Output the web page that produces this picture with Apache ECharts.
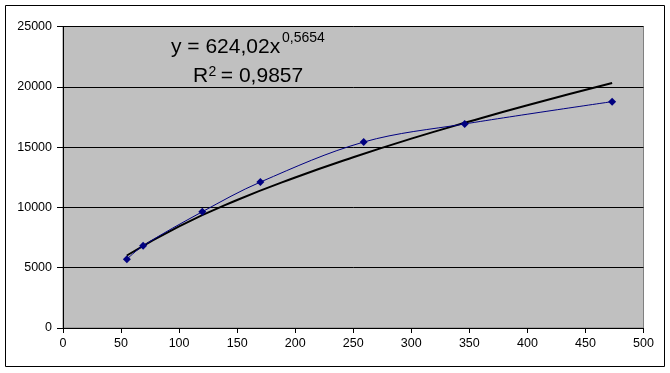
<!DOCTYPE html>
<html>
<head>
<meta charset="utf-8">
<script src="https://cdn.jsdelivr.net/npm/echarts@6/dist/echarts.min.js"></script>
<style>
html,body{margin:0;padding:0;background:#fff;}
#c{width:670px;height:373px;}
</style>
</head>
<body>
<div id="c"></div>
<script>
// Measured points (x, y)
const xValues = [55, 69, 120, 170, 259, 346, 473];
const yValues = [5700, 6820, 9640, 12100, 15420, 16920, 18770];
// Power trendline as drawn
const trendX = [55, 100, 150, 200, 250, 300, 350, 400, 473];
const trendY = [6010, 8430, 10610, 12480, 14160, 15700, 17120, 18470, 20310];
// Axis ticks
const xTicks = [0, 50, 100, 150, 200, 250, 300, 350, 400, 450, 500];
const yTicks = [0, 5000, 10000, 15000, 20000, 25000];
const eqText = 'y = 624,02x';
const eqExp = '0,5654';
const r2Base = 'R';
const r2Exp = '2';
const r2Text = ' = 0,9857';

const font = '"Liberation Sans", Arial, sans-serif';
const chart = echarts.init(document.getElementById('c'), null, {renderer: 'canvas'});
chart.setOption({
  backgroundColor: '#ffffff',
  animation: false,
  grid: {
    left: 63, top: 26.5, right: 26.5, bottom: 45,
    show: true, backgroundColor: '#c0c0c0', borderColor: '#808080', borderWidth: 1
  },
  xAxis: {
    type: 'value',
    min: xTicks[0], max: xTicks[xTicks.length - 1], interval: xTicks[1] - xTicks[0],
    axisLine: {show: true, onZero: false, lineStyle: {color: '#000', width: 1}},
    axisTick: {show: true, length: 5, lineStyle: {color: '#000'}},
    axisLabel: {color: '#000', fontSize: 12.5, fontFamily: font, margin: 9, formatter: v => String(v)},
    splitLine: {show: false}
  },
  yAxis: {
    type: 'value',
    min: yTicks[0], max: yTicks[yTicks.length - 1], interval: yTicks[1] - yTicks[0],
    axisLine: {show: true, lineStyle: {color: '#000', width: 1}},
    axisTick: {show: true, length: 6, lineStyle: {color: '#000'}},
    axisLabel: {color: '#000', fontSize: 12.5, fontFamily: font, margin: 11, formatter: v => String(v)},
    splitLine: {show: true, lineStyle: {color: '#000', width: 1}}
  },
  series: [
    {
      type: 'line', name: 'trend',
      data: trendX.map((x, i) => [x, trendY[i]]),
      smooth: true, showSymbol: false, symbol: 'none',
      lineStyle: {color: '#000', width: 2}, z: 3
    },
    {
      type: 'line', name: 'data',
      data: xValues.map((x, i) => [x, yValues[i]]),
      smooth: 0.35,
      symbol: 'diamond', symbolSize: 8,
      itemStyle: {color: '#000080'},
      lineStyle: {color: '#000080', width: 1}, z: 4
    }
  ],
  graphic: [
    {type: 'rect', shape: {x: 5.5, y: 5.5, width: 659, height: 361}, style: {fill: 'none', stroke: '#000', lineWidth: 1}, silent: true, z: 100},
    {type: 'text', x: 171, y: 47.5, style: {text: eqText, fontSize: 21, fontFamily: font, fill: '#000', verticalAlign: 'middle'}, z: 100},
    {type: 'text', x: 282, y: 38.5, style: {text: eqExp, fontSize: 14, fontFamily: font, fill: '#000', verticalAlign: 'middle'}, z: 100},
    {type: 'text', x: 193, y: 76.5, style: {text: r2Base, fontSize: 21, fontFamily: font, fill: '#000', verticalAlign: 'middle'}, z: 100},
    {type: 'text', x: 208.5, y: 72, style: {text: r2Exp, fontSize: 14, fontFamily: font, fill: '#000', verticalAlign: 'middle'}, z: 100},
    {type: 'text', x: 215, y: 76.5, style: {text: r2Text, fontSize: 21, fontFamily: font, fill: '#000', verticalAlign: 'middle'}, z: 100}
  ]
});
</script>
</body>
</html>
